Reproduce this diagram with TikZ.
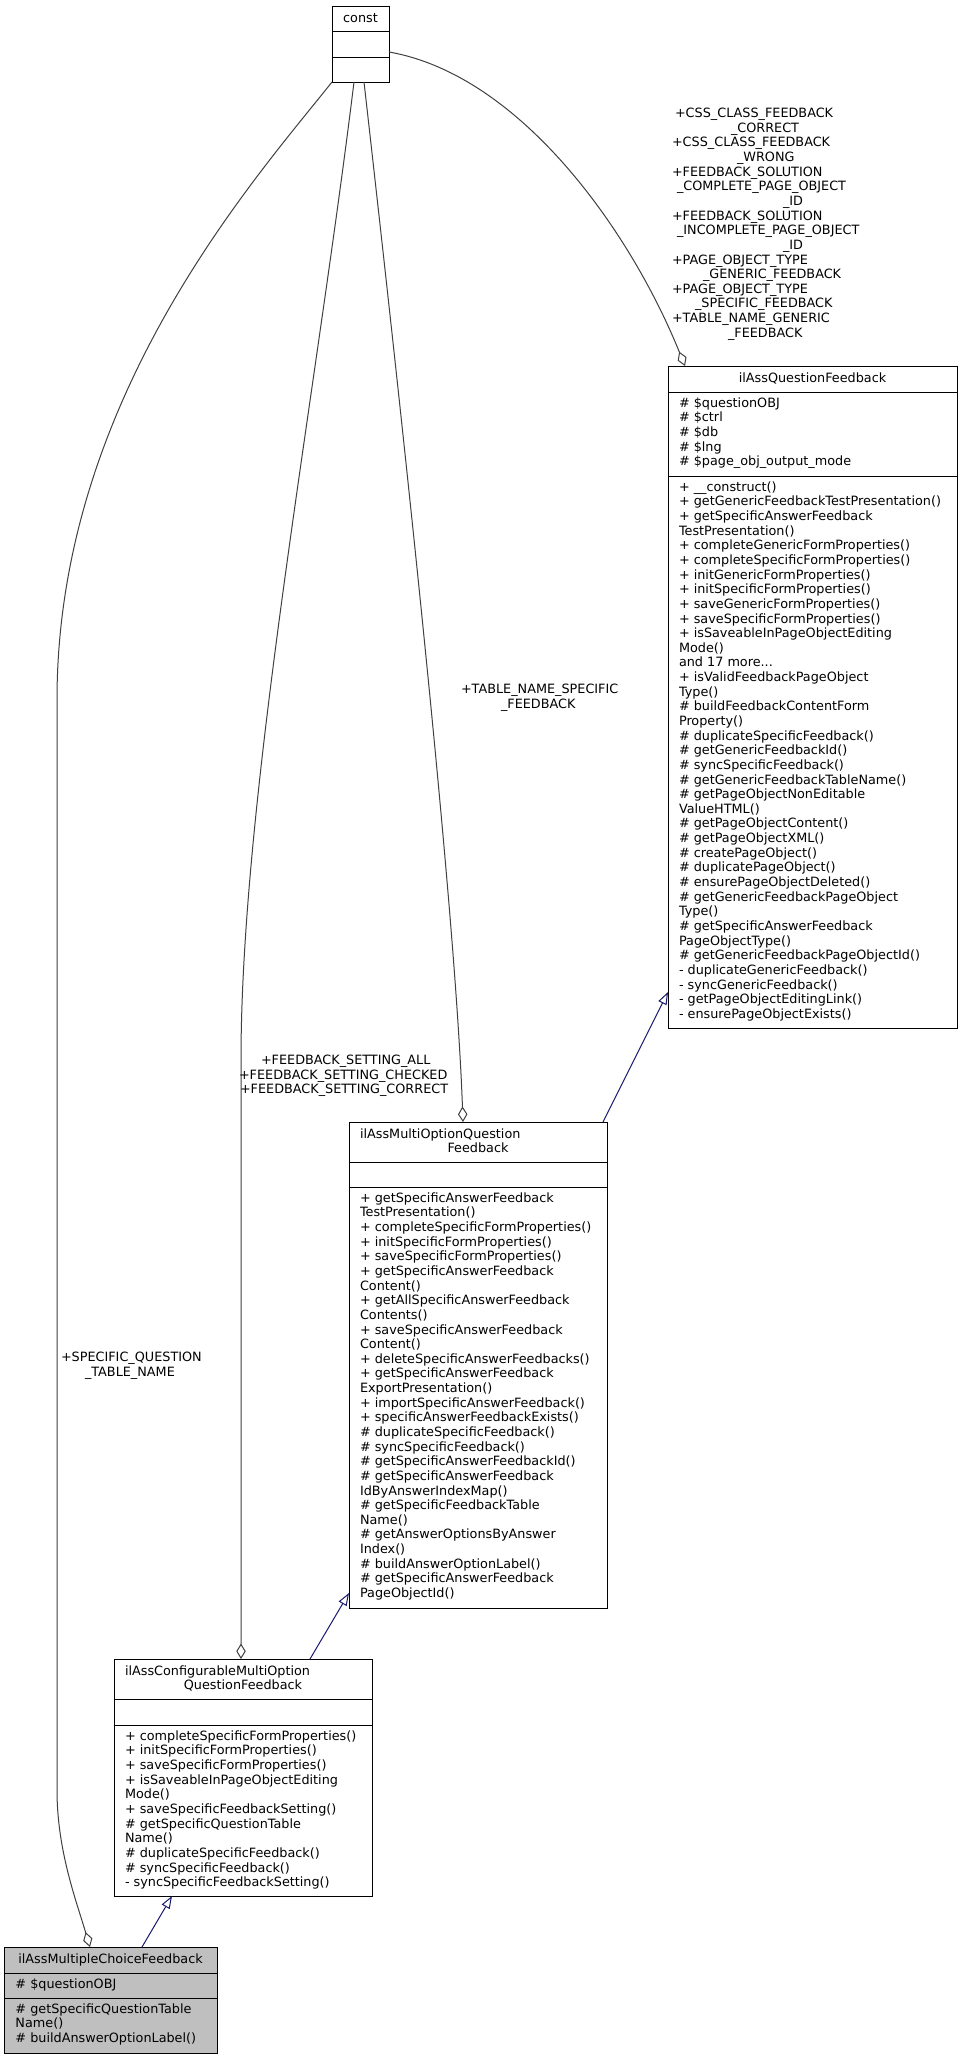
\documentclass[tikz,border=0pt]{standalone}
\usepackage{fontspec}
\setmainfont{DejaVu Sans}
\usetikzlibrary{arrows.meta,calc}
\definecolor{grey25}{HTML}{404040}
\definecolor{grey75}{HTML}{BFBFBF}
\definecolor{navyline}{HTML}{191970}
\newcommand\umlfont{\fontsize{12.8}{14.64}\selectfont}
\tikzset{
  cell/.style={draw=black, line width=1pt, inner sep=0pt, outer sep=0pt, anchor=north west, fill=white},
  hicell/.style={cell, fill=grey75},
  txt/.style={inner sep=0pt, outer sep=0pt, anchor=north west, align=left, font=\umlfont},
  ttl/.style={inner sep=0pt, outer sep=0pt, anchor=base, font=\umlfont},
  ttll/.style={inner sep=0pt, outer sep=0pt, anchor=base west, font=\umlfont},
  uses/.style={draw=grey25, line width=1pt, -{Diamond[open,length=15.5pt,width=9.5pt]}},
  inherit/.style={draw=navyline, line width=1pt, -{Triangle[open,length=12.5pt,width=9pt]}}
}
\begin{document}
\begin{tikzpicture}[x=1pt,y=-1pt]
\useasboundingbox (0,0) rectangle (962,2059);
\fill[white] (0,0) rectangle (962,2059);

% ---- const ----
\node[cell, minimum width=57pt, minimum height=25pt] (c-t) at (332,6) {};
\node[cell, minimum width=57pt, minimum height=26pt] (c-a) at (332,31) {};
\node[cell, minimum width=57pt, minimum height=25pt] (c-m) at (332,57) {};
\node[ttl] (c-n) at (360.5,22) {const};

% ---- ilAssQuestionFeedback ----
\node[cell, minimum width=289pt, minimum height=26pt] (q-t) at (668,366) {};
\node[cell, minimum width=289pt, minimum height=84pt] (q-a) at (668,392) {};
\node[cell, minimum width=289pt, minimum height=552pt] (q-m) at (668,476) {};
\node[ttl] (q-n) at (812.5,382) {ilAssQuestionFeedback};
\node[txt] (q-at) at (679,397) {\strut\# \$questionOBJ\\
\# \$ctrl\\
\# \$db\\
\# \$lng\\
\# \$page\_obj\_output\_mode};
\node[txt] (q-mt) at (679,481) {\strut+ \_\_construct()\\
+ getGenericFeedbackTestPresentation()\\
+ getSpecificAnswerFeedback\\
TestPresentation()\\
+ completeGenericFormProperties()\\
+ completeSpecificFormProperties()\\
+ initGenericFormProperties()\\
+ initSpecificFormProperties()\\
+ saveGenericFormProperties()\\
+ saveSpecificFormProperties()\\
+ isSaveableInPageObjectEditing\\
Mode()\\
and 17 more...\\
+ isValidFeedbackPageObject\\
Type()\\
\# buildFeedbackContentForm\\
Property()\\
\# duplicateSpecificFeedback()\\
\# getGenericFeedbackId()\\
\# syncSpecificFeedback()\\
\# getGenericFeedbackTableName()\\
\# getPageObjectNonEditable\\
ValueHTML()\\
\# getPageObjectContent()\\
\# getPageObjectXML()\\
\# createPageObject()\\
\# duplicatePageObject()\\
\# ensurePageObjectDeleted()\\
\# getGenericFeedbackPageObject\\
Type()\\
\# getSpecificAnswerFeedback\\
PageObjectType()\\
\# getGenericFeedbackPageObjectId()\\
- duplicateGenericFeedback()\\
- syncGenericFeedback()\\
- getPageObjectEditingLink()\\
- ensurePageObjectExists()};

% ---- ilAssMultiOptionQuestionFeedback ----
\node[cell, minimum width=258pt, minimum height=40pt] (mo-t) at (349,1122) {};
\node[cell, minimum width=258pt, minimum height=25pt] (mo-a) at (349,1162) {};
\node[cell, minimum width=258pt, minimum height=421pt] (mo-m) at (349,1187) {};
\node[ttll] (mo-n1) at (360,1138) {ilAssMultiOptionQuestion};
\node[ttl] (mo-n2) at (478,1152.6) {Feedback};
\node[txt] (mo-mt) at (360,1192) {\strut+ getSpecificAnswerFeedback\\
TestPresentation()\\
+ completeSpecificFormProperties()\\
+ initSpecificFormProperties()\\
+ saveSpecificFormProperties()\\
+ getSpecificAnswerFeedback\\
Content()\\
+ getAllSpecificAnswerFeedback\\
Contents()\\
+ saveSpecificAnswerFeedback\\
Content()\\
+ deleteSpecificAnswerFeedbacks()\\
+ getSpecificAnswerFeedback\\
ExportPresentation()\\
+ importSpecificAnswerFeedback()\\
+ specificAnswerFeedbackExists()\\
\# duplicateSpecificFeedback()\\
\# syncSpecificFeedback()\\
\# getSpecificAnswerFeedbackId()\\
\# getSpecificAnswerFeedback\\
IdByAnswerIndexMap()\\
\# getSpecificFeedbackTable\\
Name()\\
\# getAnswerOptionsByAnswer\\
Index()\\
\# buildAnswerOptionLabel()\\
\# getSpecificAnswerFeedback\\
PageObjectId()};

% ---- ilAssConfigurableMultiOptionQuestionFeedback ----
\node[cell, minimum width=258pt, minimum height=40pt] (cm-t) at (114,1659) {};
\node[cell, minimum width=258pt, minimum height=26pt] (cm-a) at (114,1699) {};
\node[cell, minimum width=258pt, minimum height=171pt] (cm-m) at (114,1725) {};
\node[ttll] (cm-n1) at (125,1675) {ilAssConfigurableMultiOption};
\node[ttl] (cm-n2) at (243,1689.6) {QuestionFeedback};
\node[txt] (cm-mt) at (125,1730) {\strut+ completeSpecificFormProperties()\\
+ initSpecificFormProperties()\\
+ saveSpecificFormProperties()\\
+ isSaveableInPageObjectEditing\\
Mode()\\
+ saveSpecificFeedbackSetting()\\
\# getSpecificQuestionTable\\
Name()\\
\# duplicateSpecificFeedback()\\
\# syncSpecificFeedback()\\
- syncSpecificFeedbackSetting()};

% ---- ilAssMultipleChoiceFeedback ----
\node[hicell, minimum width=213pt, minimum height=26pt] (mc-t) at (4,1947) {};
\node[hicell, minimum width=213pt, minimum height=25pt] (mc-a) at (4,1973) {};
\node[hicell, minimum width=213pt, minimum height=55pt] (mc-m) at (4,1998) {};
\node[ttl] (mc-n) at (110.5,1963) {ilAssMultipleChoiceFeedback};
\node[txt] (mc-at) at (15.5,1978) {\strut\# \$questionOBJ};
\node[txt] (mc-mt) at (15.5,2003) {\strut\# getSpecificQuestionTable\\
Name()\\
\# buildAnswerOptionLabel()};

% ---- usage (aggregation) connectors ----
\draw[uses] (c-m.south west) .. controls (254,180) and (57,400) .. (57,700)
  -- (57,1790) .. controls (57,1850) and (76,1900) .. ($(mc-t.north west)+(86,0)$);
\draw[uses] ($(c-m.south west)+(22,0)$) .. controls (315,400) and (241,800) .. (241,1060)
  -- ($(cm-t.north west)+(127,0)$);
\draw[uses] ($(c-m.south west)+(32,0)$) .. controls (400,400) and (455,900) .. ($(mo-t.north west)+(114,0)$);
\draw[uses] ($(c-m.north east)+(0,-5)$) .. controls (520,75) and (630,230) .. ($(q-t.north west)+(17,0)$);

% ---- connector labels ----
\node[txt] (l-q) at (672,107.4) {\strut\hspace*{3pt}+CSS\_CLASS\_FEEDBACK\\
\hspace*{59pt}\_CORRECT\\
+CSS\_CLASS\_FEEDBACK\\
\hspace*{65pt}\_WRONG\\
+FEEDBACK\_SOLUTION\\
\hspace*{5pt}\_COMPLETE\_PAGE\_OBJECT\\
\hspace*{111pt}\_ID\\
+FEEDBACK\_SOLUTION\\
\hspace*{5pt}\_INCOMPLETE\_PAGE\_OBJECT\\
\hspace*{111pt}\_ID\\
+PAGE\_OBJECT\_TYPE\\
\hspace*{31pt}\_GENERIC\_FEEDBACK\\
+PAGE\_OBJECT\_TYPE\\
\hspace*{23pt}\_SPECIFIC\_FEEDBACK\\
+TABLE\_NAME\_GENERIC\\
\hspace*{56pt}\_FEEDBACK};
\node[txt] (l-mc) at (61,1351.4) {\strut+SPECIFIC\_QUESTION\\
\hspace*{24pt}\_TABLE\_NAME};
\node[txt] (l-cm) at (239,1054.4) {\strut\hspace*{22pt}+FEEDBACK\_SETTING\_ALL\\
+FEEDBACK\_SETTING\_CHECKED\\
\hspace*{1pt}+FEEDBACK\_SETTING\_CORRECT};
\node[txt] (l-mo) at (461,683.4) {\strut+TABLE\_NAME\_SPECIFIC\\
\hspace*{40pt}\_FEEDBACK};

% ---- inheritance connectors ----
\draw[inherit] ($(mo-t.north west)+(254,0)$) -- ($(q-m.south west)+(0,-36)$);
\draw[inherit] ($(cm-t.north west)+(196,0)$) -- ($(mo-m.south west)+(0,-15)$);
\draw[inherit] ($(mc-t.north west)+(138,0)$) -- ($(cm-m.south west)+(58,0)$);
\end{tikzpicture}
\end{document}
